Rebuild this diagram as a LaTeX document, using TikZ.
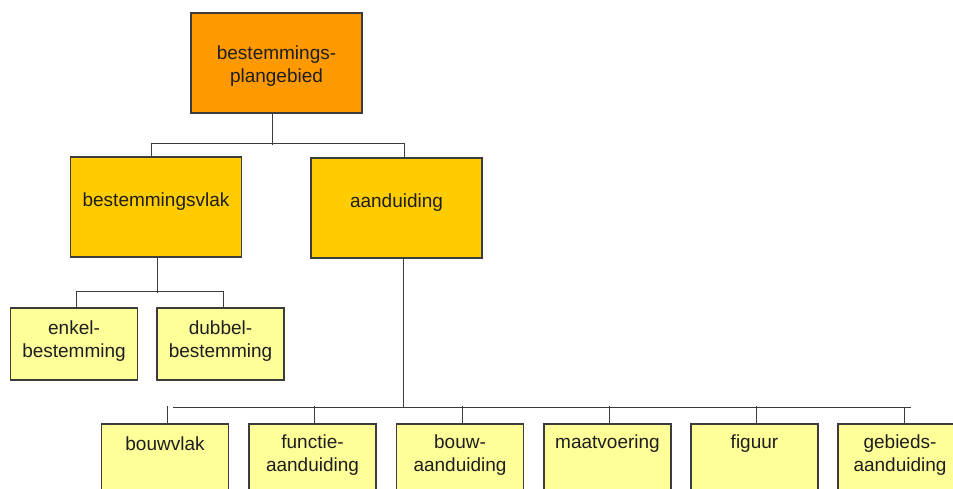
\documentclass[tikz,border=0pt]{standalone}
\usepackage{fontspec}
\setmainfont{Liberation Sans}
\definecolor{topc}{HTML}{FF9900}
\definecolor{midc}{HTML}{FFCC00}
\definecolor{leafc}{HTML}{FFFF99}
\definecolor{edgec}{HTML}{3C3C3C}
\definecolor{txtc}{HTML}{1E1E1E}
\tikzset{
  box/.style={draw=edgec, line width=1.2pt, inner sep=0pt},
  topbox/.style={box, fill=topc, minimum width=171pt, minimum height=100pt},
  midbox/.style={box, fill=midc, minimum width=171pt, minimum height=100pt},
  leafbox/.style={box, fill=leafc, minimum width=127pt, minimum height=72pt},
  lbl/.style={inner sep=0pt, align=center, text=txtc, font=\fontsize{19}{23}\selectfont},
  conn/.style={draw=edgec, line width=1pt}
}
\begin{document}
\begin{tikzpicture}[x=1pt,y=-1pt]
\path[use as bounding box, clip] (0,0) rectangle (953,489);
\fill[white] (0,0) rectangle (953,489);
% boxes
\node[topbox] (top) at (276.5,63) {};
\node[midbox] (vlak) at (156,207) {};
\node[midbox] (aand) at (396.5,208) {};
\node[leafbox] (enkel) at (74,344) {};
\node[leafbox] (dubbel) at (220.5,344) {};
\node[leafbox] (b1) at (165,460) {};
\node[leafbox] (b2) at (312.5,460) {};
\node[leafbox] (b3) at (460,460) {};
\node[leafbox] (b4) at (607.5,460) {};
\node[leafbox] (b5) at (754.5,460) {};
\node[leafbox, minimum width=150pt] (b6) at (913,460) {};
% labels
\node[lbl] (ltop) at (276.5,66.5) {bestemmings-\\plangebied};
\node[lbl] (lvlak) at (156,202) {bestemmingsvlak};
\node[lbl] (laand) at (396.5,203) {aanduiding};
\node[lbl] (lenkel) at (74,341.5) {enkel-\\bestemming};
\node[lbl] (ldubbel) at (220.5,341.5) {dubbel-\\bestemming};
\node[lbl] (lb1) at (165,443.5) {bouwvlak};
\node[lbl] (lb2) at (312.5,455) {functie-\\aanduiding};
\node[lbl] (lb3) at (460,455) {bouw-\\aanduiding};
\node[lbl] (lb4) at (607.5,443.5) {maatvoering};
\node[lbl] (lb5) at (754.5,443.5) {figuur};
\node[lbl] (lb6) at (900,455) {gebieds-\\aanduiding};
% connectors
\draw[conn] ([xshift=-4.5pt]top.south) -- ++(0,31);
\draw[conn] ([xshift=-5pt]vlak.north) -- ++(0,-13) -| ([xshift=7.5pt]aand.north);
\draw[conn] ([xshift=1pt]vlak.south) -- ++(0,35);
\draw[conn] ([xshift=2pt]enkel.north) -- ++(0,-16) -| ([xshift=2.5pt]dubbel.north);
\draw[conn] ([xshift=6.5pt]aand.south) -- ++(0,149);
\coordinate (busL) at (173,407);
\coordinate (busR) at (911,407);
\draw[conn] (busL) -- (busR);
\foreach \n in {b1,b2,b3,b4,b5}{
  \draw[conn] ([xshift=2.3pt]\n.north) -- ++(0,-17);
}
\draw[conn] (904,424) -- (904,407);
\end{tikzpicture}
\end{document}
